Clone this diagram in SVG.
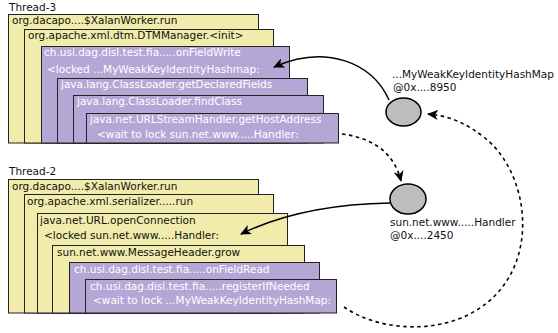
<svg xmlns="http://www.w3.org/2000/svg" width="558" height="333" viewBox="0 0 558 333">
<style>
text{font-family:"DejaVu Sans","Liberation Sans",sans-serif;font-size:10.5px;}
.y{fill:#f2ecac;stroke:#222;stroke-width:1;}
.p{fill:#b4a7d6;stroke:#222;stroke-width:1;}
.tk{fill:#111;}
.tw{fill:#ffffff;}
.obj{fill:#bdbdbd;stroke:#000;stroke-width:1.5;}
.c{fill:none;stroke:#000;stroke-width:1.5;}
.d{fill:none;stroke:#000;stroke-width:1.6;stroke-dasharray:3.5,3.5;}
</style>
<defs>
<marker id="ah" markerWidth="12" markerHeight="10" refX="10" refY="5" orient="auto" markerUnits="userSpaceOnUse">
<path d="M0,0 L11,5 L0,10 L3,5 z" fill="#000"/>
</marker>
</defs>

<g id="thread3">
<text class="tk" x="9" y="11">Thread-3</text>
<g id="t3f1"><rect class="y" x="8.5" y="14.5" width="250" height="128.5"/><text class="tk" x="12" y="24">org.dacapo....$XalanWorker.run</text></g>
<g id="t3f2"><rect class="y" x="24.5" y="29.5" width="249" height="113.5"/><text class="tk" x="28" y="39">org.apache.xml.dtm.DTMManager.&lt;init&gt;</text></g>
<g id="t3f3"><rect class="p" x="41.5" y="46.5" width="248" height="96.5"/><text class="tw" x="44" y="56">ch.usi.dag.disl.test.fia.....onFieldWrite</text><text class="tw" x="47" y="73">&lt;locked ...MyWeakKeyIdentityHashmap:</text></g>
<g id="t3f4"><rect class="p" x="57.5" y="78.5" width="250" height="64.5"/><text class="tw" x="61" y="88">java.lang.ClassLoader.getDeclaredFields</text></g>
<g id="t3f5"><rect class="p" x="73.5" y="95.5" width="250" height="47.5"/><text class="tw" x="77" y="105">java.lang.ClassLoader.findClass</text></g>
<g id="t3f6"><rect class="p" x="86.5" y="113.5" width="252" height="29.5"/><text class="tw" x="90" y="123">java.net.URLStreamHandler.getHostAddress</text><text class="tw" x="97" y="138">&lt;wait to lock sun.net.www.....Handler:</text></g>
</g>

<g id="thread2">
<text class="tk" x="9" y="175">Thread-2</text>
<g id="t2f1"><rect class="y" x="8.5" y="179.5" width="250" height="133.5"/><text class="tk" x="12" y="190">org.dacapo....$XalanWorker.run</text></g>
<g id="t2f2"><rect class="y" x="24.5" y="194.5" width="249" height="118.5"/><text class="tk" x="27" y="205">org.apache.xml.serializer.....run</text></g>
<g id="t2f3"><rect class="y" x="37.5" y="213.5" width="250" height="99.5"/><text class="tk" x="40" y="224">java.net.URL.openConnection</text><text class="tk" x="44" y="239">&lt;locked sun.net.www.....Handler:</text></g>
<g id="t2f4"><rect class="y" x="52.5" y="245.5" width="252" height="67.5"/><text class="tk" x="57" y="256">sun.net.www.MessageHeader.grow</text></g>
<g id="t2f5"><rect class="p" x="69.5" y="262.5" width="250" height="50.5"/><text class="tw" x="74" y="273">ch.usi.dag.disl.test.fia.....onFieldRead</text></g>
<g id="t2f6"><rect class="p" x="85.5" y="279.5" width="251" height="33.5"/><text class="tw" x="90" y="290">ch.usi.dag.disl.test.fia.....registerIfNeeded</text><text class="tw" x="93" y="304">&lt;wait to lock ...MyWeakKeyIdentityHashMap:</text></g>
</g>

<g id="obj1">
<ellipse class="obj" cx="403.5" cy="112" rx="17.5" ry="14"/>
<text class="tk" x="392" y="78">...MyWeakKeyIdentityHashMap</text>
<text class="tk" x="393" y="91">@0x....8950</text>
</g>
<g id="obj2">
<ellipse class="obj" cx="408" cy="199" rx="18" ry="15"/>
<text class="tk" x="390" y="226">sun.net.www.....Handler</text>
<text class="tk" x="390" y="239">@0x....2450</text>
</g>

<g id="connectors">
<path class="c" d="M389,100 C372,62 325,44 274,67" marker-end="url(#ah)"/>
<path class="c" d="M390,203 C330,204 282,214 241,234" marker-end="url(#ah)"/>
<path class="d" d="M342,134 C372,138 394,152 401,181" marker-end="url(#ah)"/>
<path class="d" d="M344,307 C382,334 460,338 500,290 C538,245 525,170 485,138 C466,123 450,116 428,114" marker-end="url(#ah)"/>
</g>
</svg>
